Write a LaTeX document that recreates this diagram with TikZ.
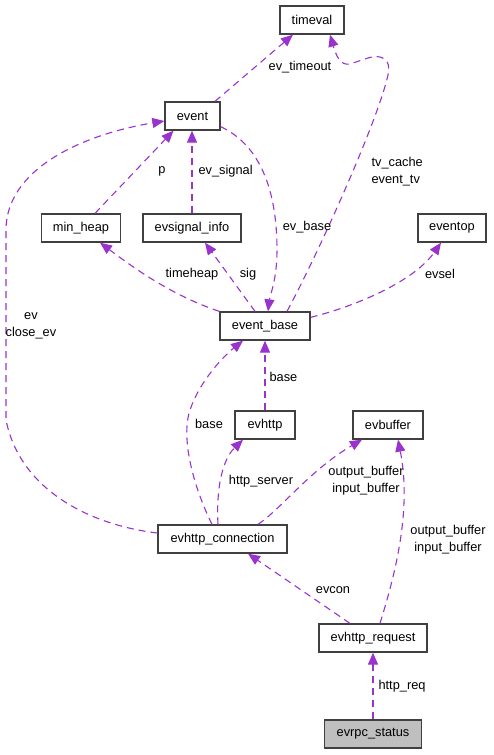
\documentclass[tikz,border=0pt]{standalone}
\usepackage{fontspec}
\setmainfont{Liberation Sans}
\usepackage{tikz}
\usetikzlibrary{arrows.meta}
\usepackage{xcolor}
\definecolor{EdgeP} {RGB}{154, 50, 205}
\definecolor{BoxG}  {RGB}{ 64, 64,  64}
\definecolor{FillG} {RGB}{191,191, 191}

\begin{document}
\begin{tikzpicture}[x=1pt,y=-1pt,
    cls/.style={draw=BoxG,line width=1.3pt,minimum height=28pt,inner sep=0pt,
      font=\fontsize{12.8}{17}\selectfont},
    rel/.style={EdgeP,line width=1.1pt,dash pattern=on 7pt off 5pt,
      -{Triangle[length=12pt,width=10pt]}},
    lbl/.style={black,font=\fontsize{12.8}{17}\selectfont,align=center,inner sep=0pt}]
  \useasboundingbox (0,0) rectangle (493,755);
  % classes
  \node[cls,minimum width=64pt]  (timeval)  at (312,20)    {timeval};
  \node[cls,minimum width=55pt]  (event)    at (192.5,116) {event};
  \node[cls,minimum width=79pt]  (minheap)  at (81,228)    {min\_heap};
  \node[cls,minimum width=98pt]  (siginfo)  at (192,228)   {evsignal\_info};
  \node[cls,minimum width=68pt]  (eventop)  at (452,228)   {eventop};
  \node[cls,minimum width=90pt]  (evbase)   at (265,326)   {event\_base};
  \node[cls,minimum width=60pt]  (evhttp)   at (265,425)   {evhttp};
  \node[cls,minimum width=70pt]  (evbuffer) at (388,425)   {evbuffer};
  \node[cls,minimum width=129pt] (conn)     at (222.5,539) {evhttp\_connection};
  \node[cls,minimum width=108pt] (req)      at (373,638)   {evhttp\_request};
  \node[cls,minimum width=97pt,fill=FillG] (status) at (373,734) {evrpc\_status};
  % relations
  \draw[rel] ([xshift=22.5pt]event.north) -- ([xshift=-19pt]timeval.south)
    node[lbl] at (300,67) {ev\_timeout};
  \draw[rel] ([xshift=22pt]evbase.north) .. controls (320,250) and (378,120) .. (388,75)
    .. controls (392,58) and (380,54) .. (368,58) -- (350,64)
    .. controls (340,66) and (336,55) .. ([xshift=18pt]timeval.south)
    node[lbl,align=left,anchor=west] at (371,171.5) {tv\_cache\\event\_tv};
  \draw[rel] ([xshift=14pt]minheap.north) -- ([xshift=-19pt]event.south)
    node[lbl] at (162,171) {p};
  \draw[rel] (siginfo.north) -- (siginfo.north |- event.south)
    node[lbl,anchor=west] at (198,171) {ev\_signal};
  \draw[rel] ([yshift=4pt]event.south east) .. controls (260,145) and (277,190) .. (277,250)
    .. controls (277,280) and (270,295) .. ([xshift=3pt]evbase.north)
    node[lbl] at (307,227) {ev\_base};
  \draw[rel] (evbase.north west) .. controls (170,295) and (130,265) .. ([xshift=19pt]minheap.south)
    node[lbl] at (192,274) {timeheap};
  \draw[rel] ([xshift=-10pt]evbase.north) -- ([xshift=13pt]siginfo.south)
    node[lbl] at (248,274) {sig};
  \draw[rel] ([yshift=-6pt]evbase.north east) .. controls (360,305) and (415,280) .. ([xshift=-11pt]eventop.south)
    node[lbl] at (440,274) {evsel};
  \draw[rel] (evhttp.north) -- (evbase.south)
    node[lbl,anchor=west] at (269,377) {base};
  \draw[rel] ([xshift=-10.5pt]conn.north) .. controls (195,490) and (180,440) .. (190,410)
    .. controls (200,380) and (225,355) .. ([xshift=-22pt]evbase.south)
    node[lbl] at (209,424) {base};
  \draw[rel] ([xshift=-4.5pt]conn.north) .. controls (216,490) and (222,460) .. ([xshift=-22pt]evhttp.south)
    node[lbl] at (261,481) {http\_server};
  \draw[rel] ([xshift=35.5pt]conn.north) .. controls (280,510) and (310,470) .. ([xshift=-26pt]evbuffer.south)
    node[lbl] at (366,480.5) {output\_buffer\\input\_buffer};
  \draw[rel] ([yshift=6pt]conn.west) .. controls (90,525) and (20,490) .. (6,420) -- (6,230)
    .. controls (6,170) and (80,135) .. ([yshift=-5pt]event.west)
    node[lbl] at (31,325.5) {ev\\close\_ev};
  \draw[rel] ([xshift=-23pt]req.north) -- ([xshift=25.5pt]conn.south)
    node[lbl] at (333,590) {evcon};
  \draw[rel] ([xshift=7pt]req.north) .. controls (395,575) and (412,510) .. ([xshift=10pt]evbuffer.south)
    node[lbl] at (448,539.5) {output\_buffer\\input\_buffer};
  \draw[rel] (status.north) -- (req.south)
    node[lbl,anchor=west] at (378,686) {http\_req};
\end{tikzpicture}
\end{document}
